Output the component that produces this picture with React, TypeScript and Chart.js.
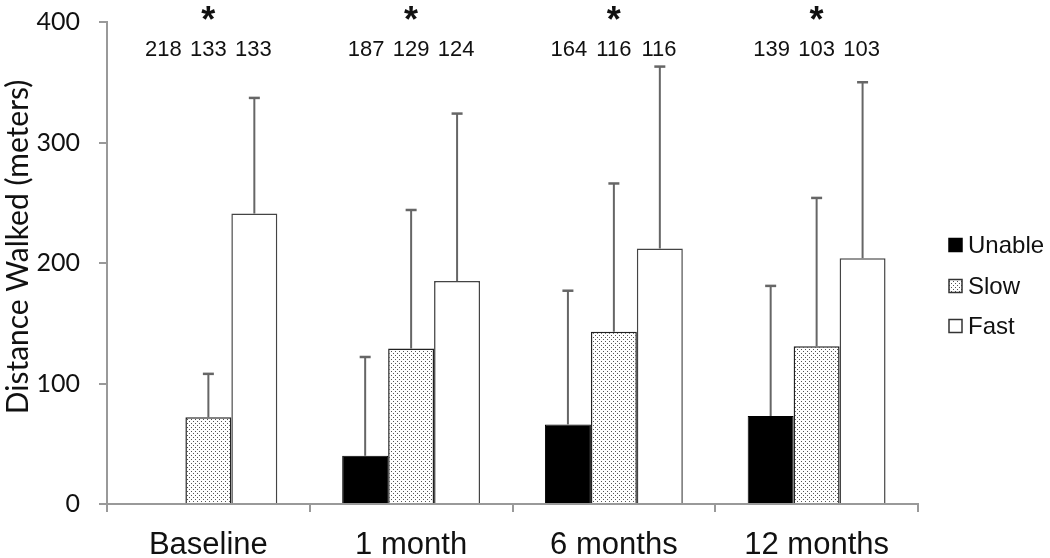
import { useEffect, useRef } from "react";
import { Chart, registerables } from "chart.js";
Chart.register(...registerables);

const categories = ["Baseline", "1 month", "6 months", "12 months"];
const seriesNames = ["Unable", "Slow", "Fast"];
const unableMeans = [null, 40, 66, 73];
const slowMeans = [72, 129, 143, 131];
const fastMeans = [241, 185, 212, 204];
const unableSD = [null, 82, 111, 108];
const slowSD = [36, 115, 123, 123];
const fastSD = [96, 139, 151, 146];
const unableN = [218, 187, 164, 139];
const slowN = [133, 129, 116, 103];
const fastN = [133, 124, 116, 103];
const significant = [true, true, true, true];
const yTickValues = [0, 100, 200, 300, 400];
const yTitle = "Distance Walked (meters)";

function makeDotPattern(): CanvasPattern | string {
  const c = document.createElement("canvas");
  c.width = 4;
  c.height = 4;
  const g = c.getContext("2d");
  if (!g) return "#ddd";
  g.fillStyle = "#ffffff";
  g.fillRect(0, 0, 4, 4);
  g.fillStyle = "#555555";
  g.fillRect(1, 1, 1, 1);
  g.fillRect(3, 3, 1, 1);
  const p = g.createPattern(c, "repeat");
  return p || "#ddd";
}

const errorBarPlugin = {
  id: "errorBars",
  afterDatasetsDraw(chart: any) {
    const ctx = chart.ctx;
    const y = chart.scales.y;
    const sds = [unableSD, slowSD, fastSD];
    ctx.save();
    ctx.strokeStyle = "#666";
    ctx.lineWidth = 2;
    chart.data.datasets.forEach((ds: any, di: number) => {
      const meta = chart.getDatasetMeta(di);
      meta.data.forEach((el: any, i: number) => {
        const v = ds.data[i];
        const sd = sds[di][i];
        if (v == null || sd == null) return;
        const x = el.x;
        const y0 = y.getPixelForValue(v);
        const y1 = y.getPixelForValue(v + sd);
        ctx.beginPath();
        ctx.moveTo(x, y0);
        ctx.lineTo(x, y1);
        ctx.stroke();
        ctx.beginPath();
        ctx.lineWidth = 2.5;
        ctx.moveTo(x - 5.5, y1);
        ctx.lineTo(x + 5.5, y1);
        ctx.stroke();
        ctx.lineWidth = 2;
      });
    });
    ctx.restore();
  },
};

const annotationPlugin = {
  id: "annotations",
  afterDraw(chart: any) {
    const ctx = chart.ctx;
    const xs = chart.scales.x;
    const area = chart.chartArea;
    const counts = [unableN, slowN, fastN];
    const slowMeta = chart.getDatasetMeta(1);
    const barW = slowMeta.data[0] ? slowMeta.data[0].width : 46;
    ctx.save();
    ctx.fillStyle = "#111";
    ctx.textAlign = "center";
    ctx.textBaseline = "middle";
    const countFont = "22px 'Liberation Sans', Arial, sans-serif";
    ctx.font = countFont;
    categories.forEach((_, i) => {
      const cx = xs.getPixelForValue(i);
      counts.forEach((arr, di) => {
        const x = cx + (di - 1) * barW * 0.98;
        ctx.fillText(String(arr[i]), x, area.top + 28);
      });
      if (significant[i]) {
        ctx.font = "bold 36px 'Liberation Sans', Arial, sans-serif";
        ctx.textBaseline = "alphabetic";
        ctx.fillText("*", cx, area.top + 10);
        ctx.textBaseline = "middle";
        ctx.font = countFont;
      }
    });
    // y axis title
    ctx.save();
    ctx.translate(18, (area.top + area.bottom) / 2 - 16);
    ctx.rotate(-Math.PI / 2);
    ctx.font = "30px Lato, sans-serif";
    ctx.fillStyle = "#111";
    ctx.textAlign = "center";
    ctx.textBaseline = "middle";
    ctx.fillText(yTitle, 0, 0);
    ctx.restore();
    // legend
    const ds = chart.data.datasets;
    const lx = area.right + 31;
    const ys = [245, 286, 326];
    ctx.textAlign = "left";
    ctx.textBaseline = "middle";
    ctx.font = "24px 'Liberation Sans', Arial, sans-serif";
    ds.forEach((d: any, di: number) => {
      const yy = ys[di];
      ctx.fillStyle = d.backgroundColor;
      ctx.fillRect(lx, yy - 6.5, 13, 13);
      ctx.strokeStyle = di === 0 ? "#000" : "#333";
      ctx.lineWidth = 1.5;
      ctx.strokeRect(lx, yy - 6.5, 13, 13);
      ctx.fillStyle = "#111";
      ctx.fillText(seriesNames[di], lx + 19, yy + 1);
    });
    ctx.restore();
  },
};

export default function App() {
  const ref = useRef<HTMLCanvasElement | null>(null);
  useEffect(() => {
    document.body.style.margin = "0";
    const canvas = ref.current;
    if (!canvas) return;
    const pattern = makeDotPattern();
    const chart = new Chart(canvas, {
      type: "bar",
      data: {
        labels: categories,
        datasets: [
          {
            label: seriesNames[0],
            data: unableMeans,
            backgroundColor: "#000000",
            borderColor: "#000000",
            borderWidth: 1,
          },
          {
            label: seriesNames[1],
            data: slowMeans,
            backgroundColor: pattern as any,
            borderColor: "#222222",
            borderWidth: 1.5,
          },
          {
            label: seriesNames[2],
            data: fastMeans,
            backgroundColor: "#ffffff",
            borderColor: "#444444",
            borderWidth: 1.5,
          },
        ],
      },
      options: {
        responsive: false,
        animation: false,
        devicePixelRatio: 1,
        layout: { padding: { left: 0, right: 132, top: 22, bottom: 0 } },
        datasets: { bar: { categoryPercentage: 0.68, barPercentage: 1.0 } },
        plugins: {
          legend: { display: false },
          tooltip: { enabled: false },
        },
        scales: {
          x: {
            grid: {
              display: true,
              drawOnChartArea: false,
              drawTicks: true,
              tickLength: 8,
              color: "#999",
              lineWidth: 2,
              offset: true,
            },
            border: { display: true, color: "#999", width: 2 },
            ticks: {
              color: "#111",
              padding: 15,
              font: { family: "'Liberation Sans', Arial, sans-serif", size: 31 },
            },
            afterFit: (s: any) => {
              s.height = 54;
              s.paddingLeft = 0;
              s.paddingRight = 0;
            },
          },
          y: {
            min: 0,
            max: 400,
            afterBuildTicks: (s: any) => {
              s.ticks = yTickValues.map((v) => ({ value: v }));
            },
            grid: {
              display: true,
              drawOnChartArea: false,
              drawTicks: true,
              tickLength: 8,
              color: "#999",
              lineWidth: 2,
            },
            border: { display: true, color: "#999", width: 2 },
            ticks: {
              color: "#111",
              padding: 19,
              font: { family: "Lato, sans-serif", size: 25 },
            },
            title: { display: false },
            afterFit: (s: any) => {
              s.width = 107;
              s.paddingTop = 0;
              s.paddingBottom = 0;
            },
          },
        },
      },
      plugins: [errorBarPlugin, annotationPlugin],
    });
    return () => chart.destroy();
  }, []);
  return (
    <div style={{ width: 1050, height: 558 }}>
      <canvas ref={ref} width={1050} height={558} />
    </div>
  );
}
